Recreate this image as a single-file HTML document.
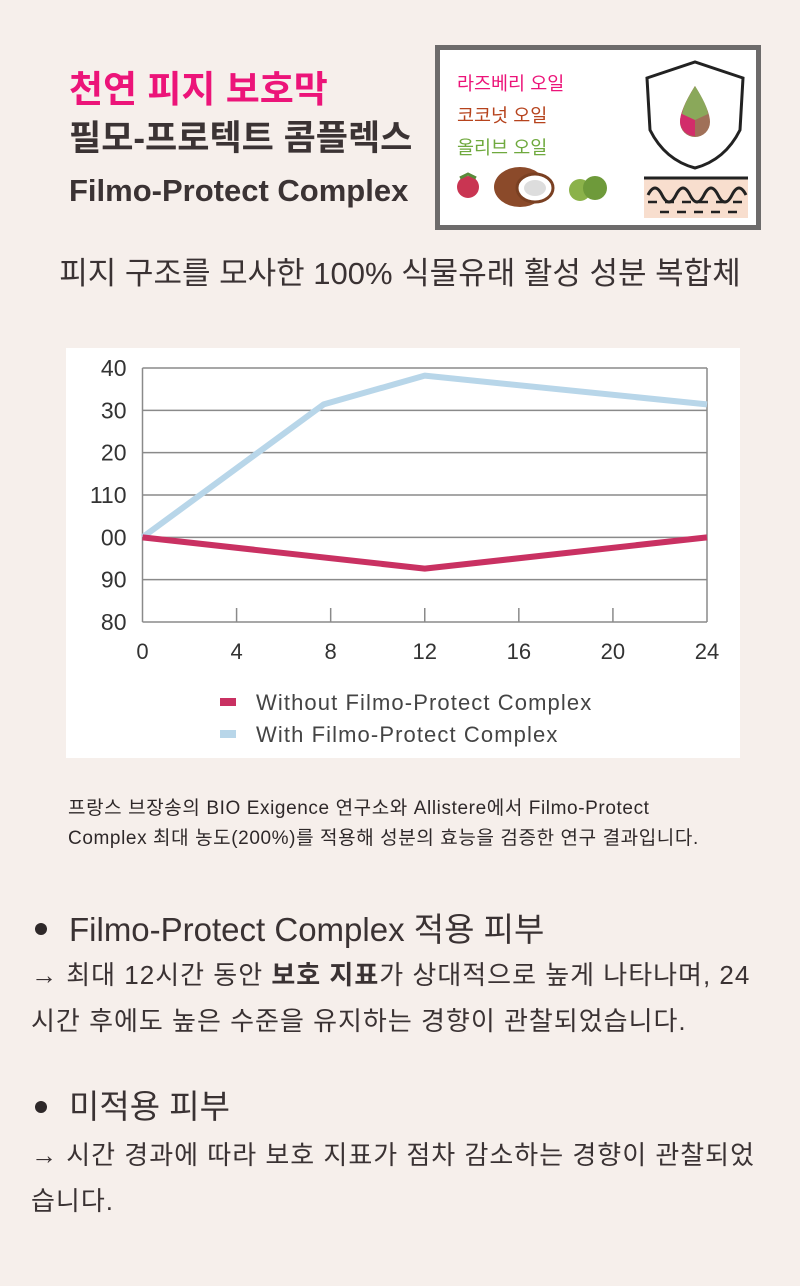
<!DOCTYPE html>
<html><head><meta charset="utf-8">
<style>
body{margin:0;width:800px;height:1286px;background:#f6efeb;position:relative;overflow:hidden;font-family:"Liberation Sans","Noto Sans CJK KR",sans-serif;color:#3a3233}
.t{position:absolute;white-space:nowrap}
</style></head><body>
<div class="t" style="left:69px;top:66px;font-size:37px;font-weight:bold;color:#ec1479;line-height:48px">천연 피지 보호막</div>
<div class="t" style="left:69px;top:116px;font-size:35px;font-weight:bold;color:#3b3334;line-height:46px">필모-프로텍트 콤플렉스</div>
<div class="t" style="left:69px;top:170px;font-size:31px;font-weight:bold;color:#3b3334;line-height:42px">Filmo-Protect Complex</div>

<div style="position:absolute;left:435px;top:45px;width:316px;height:175px;border:5px solid #6d6b6b;background:#fff">
  <div class="t" style="left:17px;top:20px;font-size:18.5px;color:#ec1479">라즈베리 오일</div>
  <div class="t" style="left:17px;top:52px;font-size:18.5px;color:#b6431d">코코넛 오일</div>
  <div class="t" style="left:17px;top:84px;font-size:18.5px;color:#6fa93e">올리브 오일</div>
  <svg width="316" height="175" style="position:absolute;left:0;top:0">
    <circle cx="28" cy="137" r="11" fill="#c93552"/>
    <path d="M20 128 l8 -4 l8 4" stroke="#5a8a3a" stroke-width="3" fill="none"/>
    <ellipse cx="80" cy="137" rx="26" ry="20" fill="#8b4a2a"/>
    <ellipse cx="95" cy="138" rx="18" ry="14" fill="#fff" stroke="#7a4022" stroke-width="3"/>
    <ellipse cx="95" cy="138" rx="11" ry="8" fill="#ddd"/>
    <circle cx="140" cy="140" r="11" fill="#8bb24a"/>
    <circle cx="155" cy="138" r="12" fill="#6e9a3a"/>
    <path d="M207 28 L255 12 L303 28 L300 80 Q285 110 255 118 Q225 110 210 80 Z" fill="#fff" stroke="#222" stroke-width="3"/>
    <path d="M255 36 Q240 60 240 72 A15 15 0 0 0 270 72 Q270 60 255 36 Z" fill="#a07058"/>
    <path d="M255 36 Q240 60 240 72 A15 15 0 0 0 255 86 Z" fill="#d22d6a"/>
    <path d="M255 36 Q243 55 242 64 L255 70 L268 64 Q267 55 255 36 Z" fill="#8aa85a"/>
    <rect x="204" y="128" width="104" height="40" fill="#f8dece"/>
    <line x1="204" y1="128" x2="308" y2="128" stroke="#222" stroke-width="3"/>
    <path d="M208 145 q7 -14 14 0 q7 14 14 0 q7 -14 14 0 q7 14 14 0 q7 -14 14 0 q7 14 14 0 q7 -14 14 0" fill="none" stroke="#222" stroke-width="3"/>
    <line x1="208" y1="152" x2="304" y2="152" stroke="#222" stroke-width="2.5" stroke-dasharray="9 8"/>
    <line x1="220" y1="162" x2="300" y2="162" stroke="#222" stroke-width="2.5" stroke-dasharray="9 8"/>
  </svg>
</div>

<div class="t" style="left:0;width:800px;text-align:center;top:252px;font-size:31px;color:#3a3233;line-height:44px">피지 구조를 모사한 100% 식물유래 활성 성분 복합체</div>

<svg id="chart" style="position:absolute;left:66px;top:348px" width="674" height="410"></svg>

<div class="t" style="left:68px;top:794px;font-size:19px;line-height:30px;color:#2e2829;letter-spacing:0.6px">프랑스 브장송의 BIO Exigence 연구소와 Allistere에서 Filmo-Protect<br>Complex 최대 농도(200%)를 적용해 성분의 효능을 검증한 연구 결과입니다.</div>

<div style="position:absolute;left:35px;top:923px;width:12px;height:12px;border-radius:50%;background:#2e2829"></div>
<div class="t" style="left:69px;top:908px;font-size:33px;line-height:44px">Filmo-Protect Complex 적용 피부</div>
<div class="t" style="left:31px;top:952px;font-size:26px;line-height:46px;letter-spacing:1px">→ 최대 12시간 동안 <b>보호 지표</b>가 상대적으로 높게 나타나며, 24<br>시간 후에도 높은 수준을 유지하는 경향이 관찰되었습니다.</div>
<div style="position:absolute;left:35px;top:1101px;width:12px;height:12px;border-radius:50%;background:#2e2829"></div>
<div class="t" style="left:69px;top:1085px;font-size:33px;line-height:44px">미적용 피부</div>
<div class="t" style="left:31px;top:1132px;font-size:26px;line-height:46px;letter-spacing:1px">→ 시간 경과에 따라 보호 지표가 점차 감소하는 경향이 관찰되었<br>습니다.</div>

<script>
const xTicks = [0, 4, 8, 12, 16, 20, 24];
const yTicks = [80, 90, 100, 110, 120, 130, 140];
const yTickLabels = ["80", "90", "00", "110", "20", "30", "40"];
const withX = [0, 7.7, 12, 24];
const withY = [100, 131.4, 138.2, 131.4];
const withoutX = [0, 12, 24];
const withoutY = [100, 92.6, 100];
const legendLabels = ["Without Filmo-Protect Complex", "With Filmo-Protect Complex"];

const svg = document.getElementById('chart');
const NS = 'http://www.w3.org/2000/svg';
const L = 76.5, R = 641, T = 20, B = 274;
const xs = v => L + (v - 0) / 24 * (R - L);
const ys = v => B - (v - 80) / 60 * (B - T);
function mk(tag, attrs){const e=document.createElementNS(NS,tag);for(const k in attrs)e.setAttribute(k,attrs[k]);svg.appendChild(e);return e;}
mk('rect',{x:0,y:0,width:674,height:410,fill:'#ffffff'});
yTicks.forEach((v,i)=>{
  const g = mk('line',{x1:L,x2:R,y1:ys(v),y2:ys(v),stroke:'#8a8a8a','stroke-width':1.5});
  
  
  const t = mk('text',{x:L-16,y:ys(v)+8,'text-anchor':'end','font-size':23,fill:'#333','font-family':'Liberation Sans, sans-serif'});
  t.textContent = yTickLabels[i];
  
  
});
const ax = mk('line',{x1:L,x2:L,y1:T,y2:B,stroke:'#8a8a8a','stroke-width':1.5});


const ax2 = mk('line',{x1:R,x2:R,y1:T,y2:B,stroke:'#8a8a8a','stroke-width':1.5});


xTicks.forEach(v=>{
  if(v>0 && v<24){
    const tk = mk('line',{x1:xs(v),x2:xs(v),y1:B-14,y2:B,stroke:'#8a8a8a','stroke-width':1.5});
    
    
  }
  const t = mk('text',{x:xs(v),y:B+37,'text-anchor':'middle','font-size':22,fill:'#333','font-family':'Liberation Sans, sans-serif'});
  t.textContent = v;
  
  
});
const pW = mk('polyline',{points:withX.map((x,i)=>xs(x)+','+ys(withY[i])).join(' '),fill:'none',stroke:'#b8d6e9','stroke-width':6,'stroke-linejoin':'round'});


const pN = mk('polyline',{points:withoutX.map((x,i)=>xs(x)+','+ys(withoutY[i])).join(' '),fill:'none',stroke:'#c93162','stroke-width':6,'stroke-linejoin':'round'});


const cols = ['#c93162','#b8d6e9'];
legendLabels.forEach((lab,i)=>{
  const y = 354 + i*32;
  const r = mk('rect',{x:154,y:y-4,width:16,height:8,fill:cols[i]});
  
  
  const t = mk('text',{x:190,y:y+8,'font-size':22,'letter-spacing':1.1,fill:'#444','font-family':'Liberation Sans, sans-serif'});
  t.textContent = lab;
  
  
});
</script>
</body></html>
